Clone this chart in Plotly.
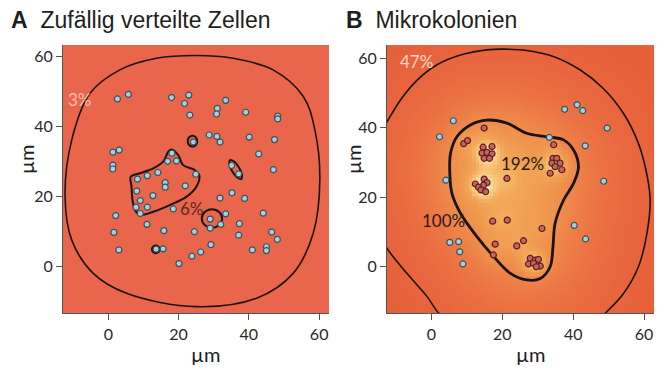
import numpy as np
import plotly.graph_objects as go

# ---------------- data ----------------
# Panel A: randomly distributed cells (µm)
a_x = [2.6, 5.7, 18.0, 21.7, 22.9, 23.2, 33.4, 31.0, 30.8, 39.1, 48.2, 48.2, 40.1, 47.3,
       28.7, 30.9, 31.8, 24.2, 1.3, 3.1, 1.3, 1.3, 18.1, 16.9, 19.4, 42.8, 35.1, 37.1,
       47.0, 24.9, 14.1, 11.1, 8.3, 16.2, 16.2, 21.9, 8.1, 12.7, 9.1, 7.9, 11.1, 9.1,
       18.5, 31.8, 35.2, 38.8, 33.4, 44.1, 2.1, 29.0, 29.0, 32.0, 37.3, 11.0, 15.8,
       24.5, 1.6, 37.1, 46.5, 48.1, 45.0, 45.0, 41.0, 3.0, 13.6, 15.6, 29.2, 26.3, 23.8, 20.1]
a_y = [47.9, 49.2, 48.3, 46.6, 49.0, 43.3, 47.5, 45.2, 43.6, 44.1, 43.0, 42.2, 37.0, 36.3,
       37.6, 37.2, 35.6, 35.6, 32.7, 33.3, 29.0, 27.9, 32.4, 30.1, 30.2, 32.2, 28.9, 26.5,
       27.7, 26.4, 26.9, 26.0, 25.0, 24.0, 22.7, 23.1, 21.6, 20.3, 18.9, 17.0, 17.0, 15.2,
       16.5, 19.6, 21.1, 19.5, 15.1, 15.3, 14.6, 13.6, 11.0, 12.1, 12.3, 12.1, 10.3,
       10.0, 9.8, 9.0, 9.9, 7.8, 5.7, 4.6, 4.8, 4.8, 5.0, 5.1, 6.3, 4.2, 3.0, 0.9]

# Panel B: micro-colonies – isolated (blue) cells and colony (red) cells
b_blue_x = [37.6, 41.1, 42.7, 49.6, 43.4, 6.2, 2.3, 33.3, 4.1, 48.6, 40.3, 43.5, 7.7, 5.2, 8.0, 8.9]
b_blue_y = [45.3, 46.6, 44.9, 39.9, 34.8, 42.0, 37.4, 37.2, 24.9, 24.6, 11.9, 8.0, 7.2, 7.0, 4.3, 0.8]

b_red_x = [14.9, 9.1, 10.2,
           14.6, 17.1, 14.3, 15.7, 17.1, 14.9, 16.4,
           34.5, 34.3, 35.4, 34.0, 36.3, 34.9, 36.8, 33.5,
           21.3, 14.9, 15.7, 14.7, 12.4, 13.3, 14.0, 15.3,
           17.3, 21.4, 31.2, 26.0, 18.0, 24.1, 17.5,
           27.9, 29.3, 30.2, 27.4, 28.8, 30.7, 29.6]
b_red_y = [39.9, 35.4, 36.3,
           34.4, 34.6, 32.7, 32.9, 32.5, 31.2, 31.2,
           35.1, 31.2, 31.2, 29.8, 29.8, 28.8, 27.9, 26.9,
           25.4, 25.2, 24.2, 23.5, 23.8, 22.9, 22.1, 21.6,
           13.1, 13.4, 11.0, 7.5, 6.5, 6.0, 3.4,
           2.4, 1.9, 2.1, 0.8, 1.0, 0.2, 0.0]

# contour outlines (µm)
a_ring_x = [25.1, 35.5, 46.9, 55.5, 58.8, 60.2, 58.3, 52.6, 42.2, 25.1, 5.2, -4.3, -10.4, -12.3, -10.4, -5.2, 3.3, 13.7, 25.1]
a_ring_y = [60.3, 59.5, 56.2, 48.6, 39.0, 24.8, 9.5, -1.9, -9.0, -11.4, -7.6, -1.9, 7.6, 20.0, 36.2, 49.5, 56.2, 59.5, 60.3]

a_blob_x = [18.0, 19.9, 21.3, 24.6, 25.9, 25.1, 22.3, 17.5, 12.8, 9.0, 7.6, 6.9, 6.6, 6.4, 9.0, 12.8, 15.6, 17.1, 18.0]
a_blob_y = [33.5, 31.9, 29.0, 27.6, 26.2, 22.9, 20.0, 17.6, 15.7, 14.8, 16.2, 19.0, 22.9, 25.7, 26.7, 28.1, 30.0, 32.9, 33.5]

a_small1_x = [25.3, 24.9, 23.95, 23.0, 22.6, 23.0, 23.95, 24.9, 25.3]
a_small1_y = [35.85, 36.95, 37.4, 36.95, 35.85, 34.75, 34.3, 34.75, 35.85]
a_small2_x = [37.83, 38.04, 37.20, 35.80, 34.67, 34.46, 35.30, 36.70, 37.83]
a_small2_y = [25.08, 26.26, 28.31, 30.03, 30.42, 29.24, 27.19, 25.47, 25.08]
a_small3_x = [32.4, 31.55, 29.5, 27.45, 26.6, 27.45, 29.5, 31.55, 32.4]
a_small3_y = [13.75, 15.6, 16.4, 15.6, 13.75, 11.9, 11.1, 11.9, 13.75]
a_small4_x = [14.5, 14.2, 13.5, 12.8, 12.5, 12.8, 13.5, 14.2, 14.5]
a_small4_y = [4.95, 5.65, 5.95, 5.65, 4.95, 4.25, 3.95, 4.25, 4.95]

b_ring_x = [-16.0, -12.5, -8.7, -4.0, 1.6, 8.2, 15.7, 20.4, 26.9, 34.4, 42.0, 48.5, 54.2, 58.4, 60.9, 61.7,
            60.8, 58.4, 54.2, 49.0, 42.0, 25.0, 8.0, 2.1, -1.2, -6.9, -12.5, -16.5, -18.0, -16.0]
b_ring_y = [36.0, 41.7, 48.0, 53.7, 58.1, 60.9, 62.4, 62.6, 62.2, 60.5, 56.6, 51.3, 44.1, 35.5, 25.9, 19.2,
            9.6, 0.0, -7.7, -13.4, -19.5, -22.0, -18.5, -13.4, -8.6, -1.9, 5.3, 13.0, 24.0, 36.0]

b_blob_x = [15.7, 21.3, 26.9, 32.6, 37.3, 40.1, 41.5, 40.1, 37.3, 34.9, 34.3, 33.5, 30.7, 26.9, 22.3, 17.6,
            12.9, 8.2, 5.8, 5.2, 5.4, 7.2, 11.0, 15.7]
b_blob_y = [42.2, 41.3, 38.4, 37.4, 36.5, 33.6, 28.8, 24.0, 19.2, 12.5, 5.8, 0.0, -3.4, -3.8, -1.9, 2.9,
            8.6, 15.4, 21.1, 26.9, 32.6, 37.4, 40.8, 42.2]

tick_vals = [0, 20, 40, 60]
tick_text = ["0", "20", "40", "60"]

# ---------------- figure ----------------
fig = go.Figure()

# density background for panel B derived from the colony cells
gx = np.arange(-15, 66, 1.0)
gy = np.arange(-15, 66, 1.0)
GX, GY = np.meshgrid(gx, gy)
rx = np.array(b_red_x)
ry = np.array(b_red_y)
d2 = (GX[..., None] - rx) ** 2 + (GY[..., None] - ry) ** 2
broad = np.exp(-d2 / (2 * 14.0 ** 2)).sum(-1)
broad /= broad.max()
narrow = np.exp(-d2 / (2 * 2.3 ** 2)).sum(-1)
narrow /= narrow.max()
zb = broad + 0.6 * narrow
ZMAX = 1.6

fig.add_trace(go.Heatmap(
    x=gx, y=gy, z=zb, xaxis="x2", yaxis="y2", zsmooth=False, showscale=False,
    zmin=0.0, zmax=ZMAX, hoverinfo="skip",
    colorscale=[[0.0, "#E6603A"], [0.1 / ZMAX, "#E8663E"], [0.3 / ZMAX, "#EB7143"],
                [0.55 / ZMAX, "#EE8449"], [0.8 / ZMAX, "#F0984F"], [1.0 / ZMAX, "#F3A757"],
                [1.2 / ZMAX, "#F6C97C"], [1.4 / ZMAX, "#FAE4A8"], [1.0, "#FFF7DA"]]))

line_black = "#1a1414"

def outline(xs, ys, xa, ya, w):
    fig.add_trace(go.Scatter(x=xs, y=ys, xaxis=xa, yaxis=ya, mode="lines",
                             line=dict(color=line_black, width=w, shape="spline", smoothing=1.0),
                             hoverinfo="skip", showlegend=False))

outline(a_ring_x, a_ring_y, "x", "y", 1.6)
outline(a_blob_x, a_blob_y, "x", "y", 2.0)
outline(a_small1_x, a_small1_y, "x", "y", 2.0)
outline(a_small2_x, a_small2_y, "x", "y", 2.0)
outline(a_small3_x, a_small3_y, "x", "y", 2.0)
outline(a_small4_x, a_small4_y, "x", "y", 2.6)
outline(b_ring_x, b_ring_y, "x2", "y2", 1.6)
outline(b_blob_x, b_blob_y, "x2", "y2", 2.8)

blue_marker = dict(size=6, color="#9ed3e0", line=dict(color="#3c4f5a", width=1.2))
red_marker = dict(size=6, color="#c8645c", line=dict(color="#5a1f22", width=1.2))

fig.add_trace(go.Scatter(x=a_x, y=a_y, mode="markers", marker=blue_marker,
                         xaxis="x", yaxis="y", showlegend=False))
fig.add_trace(go.Scatter(x=b_blue_x, y=b_blue_y, mode="markers", marker=blue_marker,
                         xaxis="x2", yaxis="y2", showlegend=False))
fig.add_trace(go.Scatter(x=b_red_x, y=b_red_y, mode="markers", marker=red_marker,
                         xaxis="x2", yaxis="y2", showlegend=False))

axis_common = dict(tickvals=tick_vals, ticktext=tick_text, ticks="outside",
                   ticklen=6, tickcolor="#555555", showline=True, linecolor="#555555",
                   linewidth=1, showgrid=False, zeroline=False,
                   tickfont=dict(family="Lato", size=16, color="#2a2a2a"))

fig.update_layout(
    width=665, height=382,
    margin=dict(l=0, r=0, t=0, b=0),
    paper_bgcolor="white",
    plot_bgcolor="#E9654B",
    showlegend=False,
    xaxis=dict(axis_common, domain=[0.0947, 0.4947], range=[-12.9, 62.8], anchor="y"),
    yaxis=dict(axis_common, domain=[0.1798, 0.8822], range=[-13.3, 63.3], anchor="x"),
    xaxis2=dict(axis_common, domain=[0.5820, 0.9835], range=[-12.5, 62.8], anchor="y2"),
    yaxis2=dict(axis_common, domain=[0.1798, 0.8822], range=[-13.4, 63.8], anchor="x2"),
)

ann = []
lab_font = dict(family="Lato", size=17)
ann.append(dict(x=-8.1, y=47.6, xref="x", yref="y", text="3%", showarrow=False,
                font=dict(lab_font, color="#F6C2AE")))
ann.append(dict(x=23.7, y=16.7, xref="x", yref="y", text="6%", showarrow=False,
                font=dict(lab_font, color="#5a2a26")))
ann.append(dict(x=-4.3, y=59.1, xref="x2", yref="y2", text="47%", showarrow=False,
                font=dict(lab_font, color="#F8D6C6")))
ann.append(dict(x=25.7, y=29.8, xref="x2", yref="y2", text="192%", showarrow=False,
                font=dict(lab_font, color="#2a1a14")))
ann.append(dict(x=3.5, y=13.4, xref="x2", yref="y2", text="100%", showarrow=False,
                font=dict(lab_font, color="#2a1a14")))

title_font = dict(family="Liberation Sans", size=23, color="#1e1e1e")
ann.append(dict(x=9 / 665, y=1 - 20 / 382, xref="paper", yref="paper", xanchor="left",
                yanchor="middle", text="<b>A</b>  Zufällig verteilte Zellen",
                showarrow=False, font=title_font))
ann.append(dict(x=344 / 665, y=1 - 20 / 382, xref="paper", yref="paper", xanchor="left",
                yanchor="middle", text="<b>B</b>  Mikrokolonien",
                showarrow=False, font=title_font))

mu_font = dict(family="Lato", size=20, color="#1e1e1e")
for cx in (205, 530):
    ann.append(dict(x=cx / 665, y=1 - 354 / 382, xref="paper", yref="paper",
                    xanchor="center", yanchor="middle",
                    text="µm", showarrow=False, font=mu_font))
for cx in (26, 353):
    ann.append(dict(x=cx / 665, y=1 - 160 / 382, xref="paper", yref="paper",
                    xanchor="center", yanchor="middle",
                    text="µm", textangle=-90, showarrow=False, font=mu_font))

fig.update_layout(annotations=ann)

fig.write_html("out.html", config={"displayModeBar": False},
               post_script="document.body.style.margin='0px';")
